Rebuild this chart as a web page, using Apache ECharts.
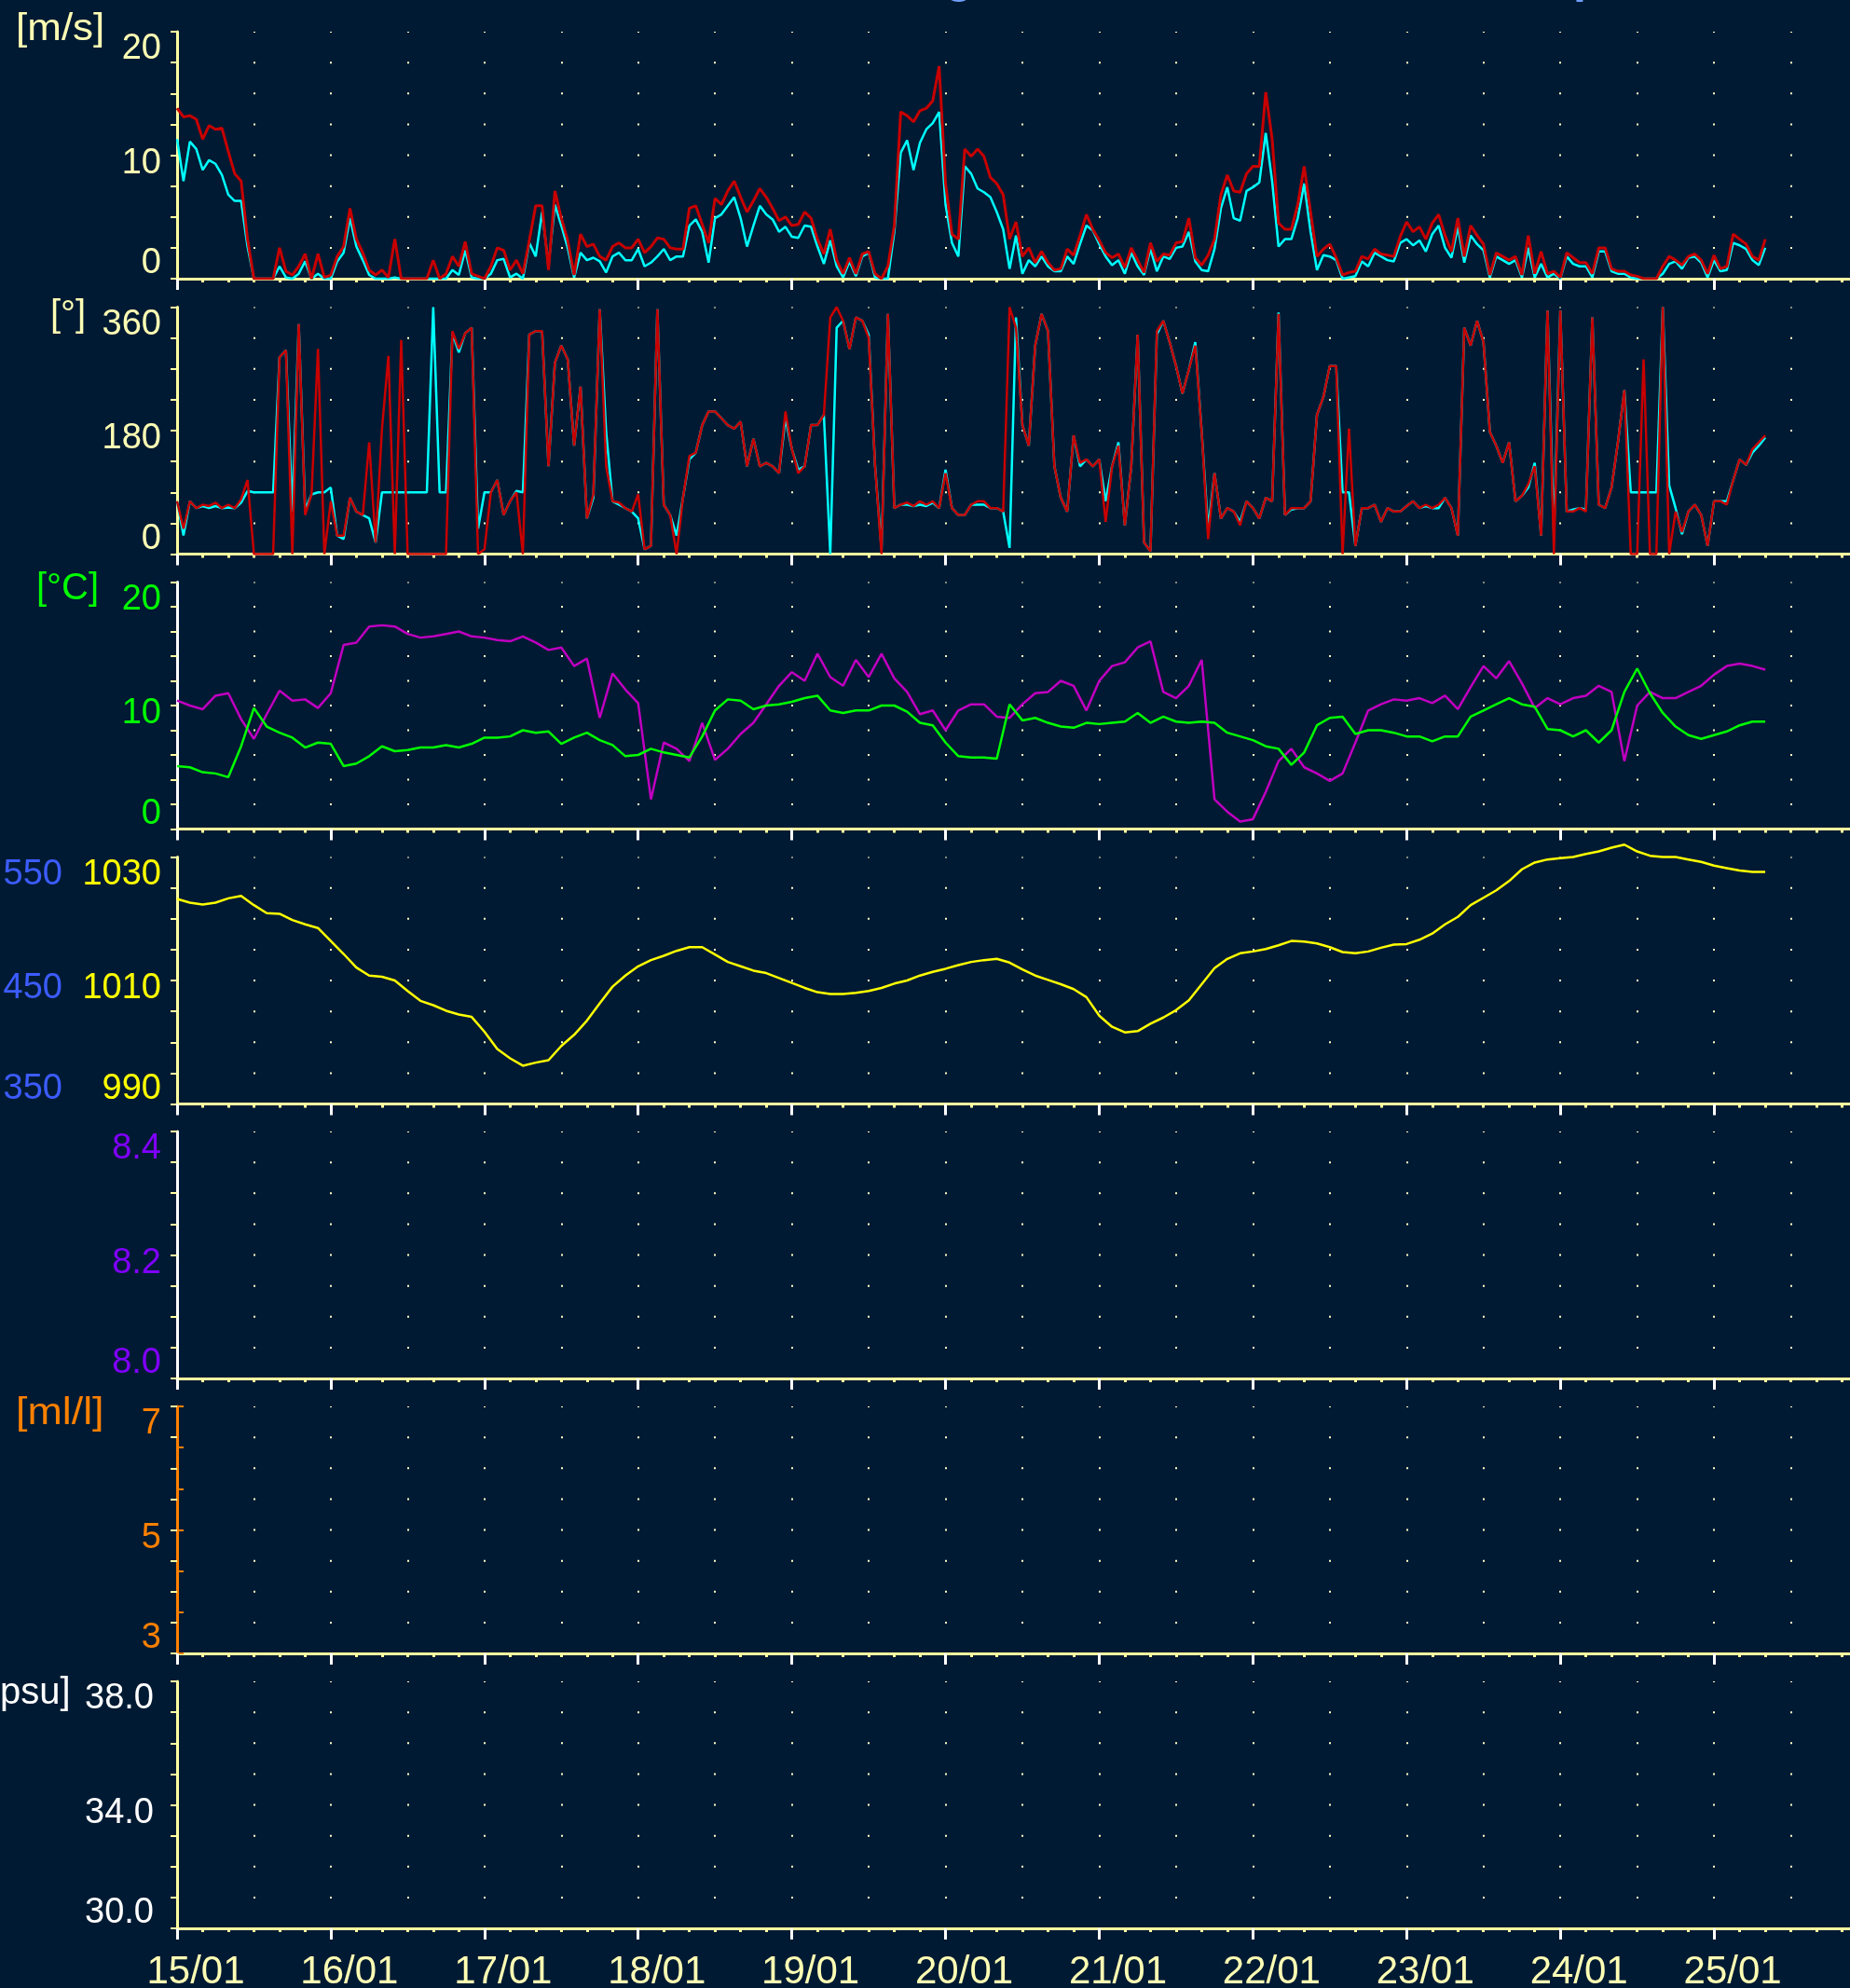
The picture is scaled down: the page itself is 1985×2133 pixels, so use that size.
<!DOCTYPE html>
<html><head><meta charset="utf-8">
<script src="https://cdn.jsdelivr.net/npm/echarts@6/dist/echarts.min.js"></script>
<style>html,body{margin:0;padding:0;background:#001a33;}#c{width:1985px;height:2133px;}</style>
</head><body><div id="c"></div>
<script>
// ---------- data ----------
const dayLabels = ['15/01','16/01','17/01','18/01','19/01','20/01','21/01','22/01','23/01','24/01','25/01'];
const windStepHours = 1;   // hours between samples, from 15/01 00:00
const dirStepHours = 1;
const tempStepHours = 2;
const pressStepHours = 2;

const windGust = [13.8,13.1,13.2,12.9,11.3,12.4,12.1,12.2,10.3,8.5,7.9,3.2,0,0,0,0,2.5,0.6,0.3,1.0,2.0,0,2.0,0.1,0.3,1.8,2.6,5.7,3.2,2.1,0.7,0.3,0.7,0.1,3.2,0,0,0,0,0,1.5,0,0.4,1.8,1.0,3.0,0.4,0.2,0,1.0,2.5,2.3,0.7,1.5,0.4,3.1,5.9,5.9,0.7,7.1,4.9,3.1,0.3,3.6,2.6,2.8,1.8,1.5,2.6,2.9,2.5,2.5,3.2,2.1,2.6,3.3,3.2,2.5,2.4,2.4,5.7,5.9,4.4,2.9,6.5,6.0,7.1,7.9,6.6,5.4,6.3,7.3,6.6,5.7,4.7,5.0,4.3,4.4,5.4,4.9,3.2,2.0,4.0,1.5,0.4,1.7,0.4,2.0,2.2,0.4,0,1.0,4.3,13.5,13.2,12.7,13.6,13.8,14.4,17.2,7.7,3.6,3.2,10.5,9.9,10.5,9.9,8.2,7.7,6.8,3.2,4.6,1.8,2.5,1.3,2.2,1.3,0.7,0.8,2.4,1.9,3.5,5.2,4.0,3.1,2.1,1.7,2.0,0.9,2.5,1.5,0.5,2.9,1.4,2.0,1.9,2.9,3.0,4.9,1.7,1.1,1.9,3.2,6.8,8.4,7.1,7.0,8.5,9.1,9.1,15.1,11.3,4.5,4.0,4.0,6.0,9.1,5.4,1.8,2.4,2.8,1.7,0.3,0.5,0.6,1.8,1.6,2.4,2.0,1.9,1.8,3.4,4.6,3.8,4.2,3.2,4.5,5.2,3.5,2.2,4.9,1.8,4.3,3.5,2.8,0.3,2.1,1.8,1.5,1.8,0.3,3.5,0.4,2.2,0.4,0.6,0.1,2.1,1.7,1.3,1.3,0.4,2.5,2.5,0.8,0.6,0.6,0.3,0.2,0,0,0,1.0,1.8,1.5,1.1,1.8,2.0,1.5,0.4,1.9,0.8,1.0,3.6,3.2,2.8,1.8,1.5,3.2];
const windMean = [11.3,7.9,11.1,10.5,8.8,9.6,9.3,8.4,6.8,6.3,6.3,2.6,0,0,0,0,1.0,0.1,0,0.4,1.4,0,0.4,0,0,1.4,2.1,4.9,2.6,1.5,0.3,0,0,0,0.1,0,0,0,0,0,0,0,0,0.7,0.3,2.3,0.1,0,0,0.4,1.5,1.6,0.1,0.4,0,2.9,1.8,5.4,1.1,6.0,4.3,2.5,0.1,2.1,1.5,1.7,1.4,0.5,1.8,2.1,1.5,1.5,2.4,1.0,1.3,1.8,2.4,1.5,1.8,1.8,4.3,4.8,3.8,1.3,4.9,5.2,5.9,6.6,4.9,2.6,4.3,5.9,5.2,4.8,3.8,4.2,3.4,3.3,4.3,4.2,2.6,1.2,3.1,1.0,0.1,1.4,0.2,1.8,2.1,0.1,0,0,3.8,10.2,11.2,8.8,11.0,12.1,12.6,13.5,6.0,2.9,1.8,9.1,8.5,7.3,7.0,6.6,5.4,4.0,0.8,3.5,0.4,1.5,1.0,1.8,1.0,0.6,0.6,1.8,1.2,2.8,4.3,3.9,2.8,1.8,1.1,1.5,0.4,2.1,1.0,0.3,2.4,0.6,1.8,1.6,2.5,2.6,3.8,1.4,0.7,0.6,2.4,5.7,7.4,4.9,4.7,7.1,7.4,7.8,11.8,7.9,2.6,3.2,3.2,4.9,7.7,3.8,0.7,1.9,1.8,1.5,0,0.1,0.2,1.4,1.0,2.1,1.8,1.5,1.4,2.9,3.2,2.7,3.1,2.2,3.6,4.3,2.5,1.7,4.2,1.3,3.5,2.8,2.3,0.1,1.8,1.5,1.2,1.5,0.1,2.5,0.1,1.2,0.1,0.4,0,1.8,1.2,1.0,1.0,0.1,2.2,2.2,0.6,0.4,0.4,0.1,0,0,0,0,0.4,1.2,1.4,0.8,1.7,1.8,1.3,0.1,1.5,0.6,0.7,2.9,2.7,2.4,1.5,1.1,2.5];

const dirGust = [77,37,77,67,72,70,75,67,72,67,80,108,0,0,0,0,287,297,0,335,57,87,299,0,77,27,27,82,62,57,163,17,183,289,0,312,0,0,0,0,0,0,0,325,299,322,330,0,7,90,108,57,77,90,0,320,325,325,128,279,304,284,158,244,52,87,357,128,77,75,67,62,87,7,12,357,72,57,0,82,143,148,188,208,208,198,188,183,193,128,168,128,133,128,118,208,153,118,128,188,188,203,345,360,340,299,345,340,315,128,0,350,67,72,75,70,77,72,77,67,118,67,57,57,72,77,77,67,67,62,360,330,188,158,304,350,325,128,82,62,173,133,138,128,138,47,128,158,42,128,320,17,4,325,340,309,274,234,269,304,178,22,118,52,67,62,42,77,67,52,82,77,350,57,67,67,67,77,203,229,274,274,0,183,12,67,67,72,47,67,62,62,70,77,67,72,67,72,82,67,27,330,304,340,309,178,158,133,163,77,85,102,128,27,355,0,355,62,62,67,62,345,72,67,97,163,239,0,0,284,0,0,360,0,62,32,62,72,57,12,77,77,72,108,138,130,153,163,173];
const dirMean = [77,27,77,67,70,67,70,67,68,67,75,92,90,90,90,90,287,297,62,335,65,87,90,90,97,27,22,82,62,57,52,17,90,90,90,90,90,90,90,90,360,90,90,322,294,322,330,37,90,90,108,57,77,92,90,320,325,325,128,279,304,284,158,244,52,82,357,178,77,72,67,62,52,7,12,357,72,57,27,82,138,148,188,208,208,198,188,183,193,128,168,128,133,128,118,198,153,123,128,188,188,203,0,330,340,299,345,340,320,128,7,350,67,72,72,70,72,70,75,67,123,67,57,57,72,72,72,67,67,62,9,345,188,158,304,350,325,128,82,62,173,128,138,128,138,77,128,163,42,128,320,17,4,320,340,309,274,234,269,309,178,37,118,52,67,62,47,77,67,52,82,77,352,57,65,67,67,77,203,229,274,274,90,90,12,67,67,72,47,67,62,62,70,77,67,70,67,67,82,67,27,330,304,340,309,178,158,133,163,77,85,97,133,27,355,27,355,62,65,67,65,345,72,67,97,163,239,90,90,90,90,90,360,100,67,29,62,72,57,12,77,77,77,108,138,130,148,158,170];

const tempMagenta = [10.4,10.0,9.7,10.8,11.0,8.9,7.3,9.3,11.2,10.4,10.5,9.8,11.0,14.9,15.1,16.4,16.5,16.4,15.8,15.5,15.6,15.8,16.0,15.6,15.5,15.3,15.2,15.6,15.1,14.5,14.7,13.2,13.8,9.0,12.6,11.3,10.2,2.4,7.0,6.5,5.5,8.6,5.6,6.5,7.7,8.6,10.1,11.6,12.7,12.0,14.2,12.3,11.6,13.7,12.3,14.2,12.2,11.1,9.3,9.6,8.0,9.6,10.1,10.1,9.1,9.0,10.1,11.0,11.1,12.0,11.6,9.6,12.0,13.2,13.5,14.7,15.2,11.1,10.6,11.6,13.7,2.4,1.4,0.6,0.8,3.0,5.5,6.5,5.0,4.5,3.9,4.5,7.0,9.6,10.1,10.5,10.4,10.6,10.2,10.8,9.7,11.5,13.2,12.2,13.6,11.8,9.8,10.6,10.1,10.6,10.8,11.6,11.1,5.5,10.0,11.1,10.6,10.6,11.1,11.6,12.5,13.2,13.4,13.2,12.9];
const tempGreen = [5.1,5.0,4.6,4.5,4.2,6.7,9.8,8.3,7.8,7.4,6.6,7.0,6.9,5.1,5.3,5.9,6.7,6.3,6.4,6.6,6.6,6.8,6.6,6.9,7.4,7.4,7.5,8.0,7.8,7.9,6.9,7.4,7.8,7.2,6.8,5.9,6.0,6.5,6.2,6.0,5.8,7.5,9.6,10.5,10.4,9.7,10.0,10.1,10.3,10.6,10.8,9.6,9.4,9.6,9.6,10.0,10.0,9.5,8.6,8.4,7.0,5.9,5.8,5.8,5.7,10.1,8.8,9.0,8.6,8.3,8.2,8.6,8.5,8.6,8.7,9.4,8.6,9.1,8.7,8.6,8.7,8.6,7.8,7.5,7.2,6.7,6.5,5.2,6.2,8.4,9.0,9.1,7.7,8.0,8.0,7.8,7.5,7.5,7.1,7.5,7.5,9.1,9.6,10.1,10.6,10.1,9.9,8.1,8.0,7.5,8.0,7.0,8.0,11.1,13.0,11.0,9.4,8.3,7.6,7.3,7.6,7.9,8.4,8.7,8.7];

const pressure = [1023.2,1022.6,1022.3,1022.6,1023.3,1023.7,1022.2,1020.9,1020.8,1019.8,1019.1,1018.5,1016.4,1014.3,1012.1,1010.8,1010.6,1010.0,1008.3,1006.7,1006.0,1005.1,1004.5,1004.1,1001.7,998.9,997.4,996.2,996.7,997.1,999.4,1001.2,1003.5,1006.3,1009.0,1010.8,1012.3,1013.3,1014.0,1014.8,1015.4,1015.4,1014.2,1013.0,1012.3,1011.6,1011.2,1010.4,1009.6,1008.8,1008.1,1007.8,1007.8,1008.0,1008.3,1008.8,1009.5,1010.0,1010.8,1011.4,1011.9,1012.5,1013.0,1013.3,1013.5,1012.9,1011.8,1010.8,1010.1,1009.4,1008.6,1007.3,1004.3,1002.5,1001.6,1001.8,1003.0,1004.0,1005.2,1006.8,1009.4,1012.0,1013.5,1014.4,1014.7,1015.1,1015.7,1016.4,1016.3,1016.0,1015.4,1014.6,1014.4,1014.7,1015.3,1015.8,1015.9,1016.6,1017.6,1019.1,1020.3,1022.2,1023.4,1024.6,1026.1,1028.0,1029.1,1029.6,1029.8,1030.0,1030.5,1030.9,1031.5,1032.0,1030.9,1030.2,1030.0,1030.0,1029.6,1029.2,1028.6,1028.2,1027.8,1027.6,1027.6];

// tick labels: [value, text]  (top, middle, bottom label of each panel)
const speedTicks = [[20,'20'],[10,'10'],[2.5,'0']];
const dirTicks = [[360,'360'],[180,'180'],[45,'0']];
const tempTicks = [[20,'20'],[10,'10'],[2,'0']];
const pressTicks = [[1030,'1030'],[1010,'1010'],[995,'990']];
const pressBlueTicks = [[550,'550'],[450,'450'],[375,'350']];
const phTicks = [[8.4,'8.4'],[8.2,'8.2'],[8.05,'8.0']];
const oxyTicks = [[7,'7'],[5,'5'],[3.5,'3']];
const salTicks = [[38,'38.0'],[34,'34.0'],[31,'30.0']];

// ---------- layout / style ----------
const FONT = '"Liberation Sans", Arial, Helvetica, sans-serif';
const GL = 190, GW = 1814, GH = 265;
const tops = [34, 329.5, 624.5, 919.5, 1214, 1509, 1804];
const PALE = '#ffffa0', LABELPALE = '#ffffb4';

const panels = [
  {min:0, max:20, interval:2.5, n:8, ticks:speedTicks, color:LABELPALE, line:PALE, margin:17, bpad:34},
  {min:0, max:360, interval:45, n:8, ticks:dirTicks, color:LABELPALE, line:PALE, margin:17, bpad:34},
  {min:0, max:20, interval:2, n:10, ticks:tempTicks, color:'#00ff00', line:'#ffffff', margin:17, bpad:21},
  {min:990, max:1030, interval:5, n:8, ticks:pressTicks, color:'#ffff00', line:PALE, margin:17, bpad:34},
  {min:8.0, max:8.4, interval:0.05, n:8, ticks:phTicks, color:'#8000ff', line:'#ffffff', margin:17, bpad:34},
  {min:3, max:7, interval:0.5, n:8, ticks:oxyTicks, color:'#ff8000', line:'#ff8000', margin:17, bpad:34, noLine:true},
  {min:30, max:38, interval:1, n:8, ticks:salTicks, color:'#ffffff', line:PALE, margin:25, bpad:34}
];

function labelFormatter(ticks) {
  const cls = ['t','m','b'];
  return function (v) {
    for (let i = 0; i < ticks.length; i++) {
      if (Math.abs(v - ticks[i][0]) < 1e-4) return '{' + cls[i] + '|' + ticks[i][1] + '}';
    }
    return '';
  };
}
function richFor(color, bpad) {
  const base = {color: color, fontSize: 38, fontFamily: FONT};
  return {
    t: Object.assign({padding:[38,0,0,0]}, base),
    m: Object.assign({padding:[18,0,0,0]}, base),
    b: Object.assign({padding:[bpad,0,0,0]}, base)
  };
}

const grid = tops.map(t => ({left: GL, top: t, width: GW, height: GH, containLabel: false, outerBoundsMode: 'none'}));

const xAxis = [];
const yAxis = [];
panels.forEach((p, g) => {
  xAxis.push({
    type:'value', gridIndex:g, min:0, max:264, interval:24,
    axisLine:{show:true, onZero:false, lineStyle:{color:PALE, width:3}},
    axisTick:{show:true, length:12, lineStyle:{color:'#ffffff', width:3}},
    minorTick:{show:true, splitNumber:6, length:4, lineStyle:{color:PALE, width:3}},
    splitLine:{show:false}, minorSplitLine:{show:false},
    axisLabel:{show: g === 6, margin:26, color:LABELPALE, fontSize:42, fontFamily:FONT,
      padding:[0,0,0,40],
      formatter: function (v) { const d = Math.round(v/24); return (Math.abs(v - d*24) < 1e-6 && d < dayLabels.length) ? dayLabels[d] : ''; }}
  });
  const P = GH / p.n;
  xAxis.push({
    type:'value', gridIndex:g, min:0, max:264, interval:12, position:'bottom',
    axisLine:{show:false}, axisTick:{show:false}, axisLabel:{show:false},
    splitLine:{show:true, lineStyle:{color:'#ffffc8', width:2, type:[2, P-2], dashOffset:1}}
  });
  yAxis.push({
    type:'value', gridIndex:g, min:p.min, max:p.max, interval:p.interval, position:'left',
    axisLine:{show: !p.noLine, onZero:false, lineStyle:{color:p.line, width:3}},
    axisTick:{show:true, length:7, lineStyle:{color:PALE, width:2}},
    splitLine:{show:false},
    axisLabel:{show:true, margin:p.margin, color:p.color, fontSize:38, fontFamily:FONT,
      formatter: labelFormatter(p.ticks), rich: richFor(p.color, p.bpad)}
  });
});
// blue pressure scale (panel 4)
yAxis.push({
  type:'value', gridIndex:3, min:350, max:550, interval:25, position:'left',
  axisLine:{show:false}, axisTick:{show:false}, splitLine:{show:false},
  axisLabel:{show:true, margin:123, color:'#3c5cff', fontSize:38, fontFamily:FONT,
    formatter: labelFormatter(pressBlueTicks), rich: richFor('#3c5cff', 34)}
});
// orange oxygen axis (panel 6)
yAxis.push({
  type:'value', gridIndex:5, min:0, max:6, interval:1, position:'left',
  axisLine:{show:true, onZero:false, lineStyle:{color:'#ff8000', width:3}},
  axisTick:{show:true, inside:true, length:7, lineStyle:{color:'#ff8000', width:2}},
  axisLabel:{show:false}, splitLine:{show:false}
});

function pairs(arr, step) { return arr.map((v, i) => [i * step, v]); }
function line(data, xi, yi, color, width, extra) {
  return Object.assign({type:'line', xAxisIndex:xi, yAxisIndex:yi, data:data, symbol:'none', showSymbol:false,
    silent:true, animation:false, lineStyle:{color:color, width:width}, itemStyle:{color:color}}, extra || {});
}

const series = [
  line(pairs(windMean, windStepHours), 0, 0, '#00ffff', 2.5),
  line(pairs(windGust, windStepHours), 0, 0, '#c80000', 3),
  line(pairs(dirMean, dirStepHours), 2, 1, '#00ffff', 2.5),
  line(pairs(dirGust, dirStepHours), 2, 1, '#c80000', 2.5),
  line(pairs(tempMagenta, tempStepHours), 4, 2, '#c000c0', 2.5),
  line(pairs(tempGreen, tempStepHours), 4, 2, '#00ff00', 2.5),
  line(pairs(pressure, pressStepHours), 6, 3, '#ffff00', 2.5, {clip:false})
];

const unitFont = '40px ' + FONT;
const graphic = [
  {type:'text', left:17, top:12, scaleX:1.1, style:{text:'[m/s]', fill:LABELPALE, font:unitFont}},
  {type:'text', left:54, top:319, style:{text:'[°]', fill:LABELPALE, font:unitFont}},
  {type:'text', left:39, top:612, style:{text:'[°C]', fill:'#00ff00', font:unitFont}},
  {type:'text', left:17, top:1497, scaleX:1.12, style:{text:'[ml/l]', fill:'#ff8000', font:unitFont}},
  {type:'text', left:-11, top:1797, style:{text:'[psu]', fill:'#ffffff', font:unitFont}},
  {type:'text', left:1014, top:-47, style:{text:'g', fill:'#6f9fff', font:'bold 50px ' + FONT}},
  {type:'text', left:1688, top:-47, style:{text:'p', fill:'#6f9fff', font:'bold 50px ' + FONT}}
];

const chart = echarts.init(document.getElementById('c'), null, {renderer:'canvas', width:1985, height:2133});
chart.setOption({
  backgroundColor:'#001a33',
  animation:false,
  grid: grid, xAxis: xAxis, yAxis: yAxis, series: series, graphic: graphic
});
</script></body></html>
